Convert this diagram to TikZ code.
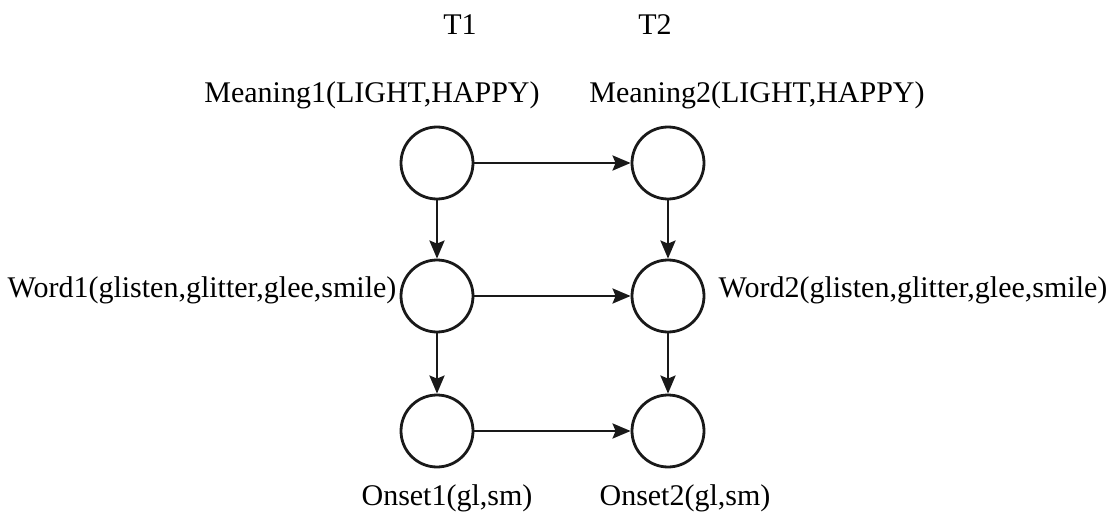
\documentclass[tikz,border=0pt]{standalone}
\usepackage{fontspec}
\setmainfont{Liberation Serif}
\usetikzlibrary{arrows.meta}
\begin{document}
\begin{tikzpicture}[x=1pt,y=-1pt,
  state/.style={circle,draw=black!90,line width=2.8pt,minimum size=72pt,inner sep=0pt},
  lbl/.style={font=\fontsize{30}{33}\selectfont,inner sep=0pt,anchor=base},
  conn/.style={line width=2.8pt,draw=black!90,-{Stealth[length=18pt,width=15pt,inset=3pt]}}]
\useasboundingbox (0,0) rectangle (1109,516);
\node[state] (m1) at (437,163) {};
\node[state] (m2) at (668,163) {};
\node[state] (w1) at (437,296) {};
\node[state] (w2) at (668,296) {};
\node[state] (o1) at (437,431) {};
\node[state] (o2) at (668,431) {};
\node[lbl] (t1) at (460,35) {T1};
\node[lbl] (t2) at (655,35) {T2};
\node[lbl] (lm1) at (372,103) {Meaning1(LIGHT,HAPPY)};
\node[lbl] (lm2) at (757,103) {Meaning2(LIGHT,HAPPY)};
\node[lbl] (lw1) at (202,297) {Word1(glisten,glitter,glee,smile)};
\node[lbl] (lw2) at (913,297) {Word2(glisten,glitter,glee,smile)};
\node[lbl] (lo1) at (447,505) {Onset1(gl,sm)};
\node[lbl] (lo2) at (685,505) {Onset2(gl,sm)};
\draw[conn] (m1) -- (m2);
\draw[conn] (w1) -- (w2);
\draw[conn] (o1) -- (o2);
\draw[conn] (m1) -- (w1);
\draw[conn] (w1) -- (o1);
\draw[conn] (m2) -- (w2);
\draw[conn] (w2) -- (o2);
\end{tikzpicture}
\end{document}
